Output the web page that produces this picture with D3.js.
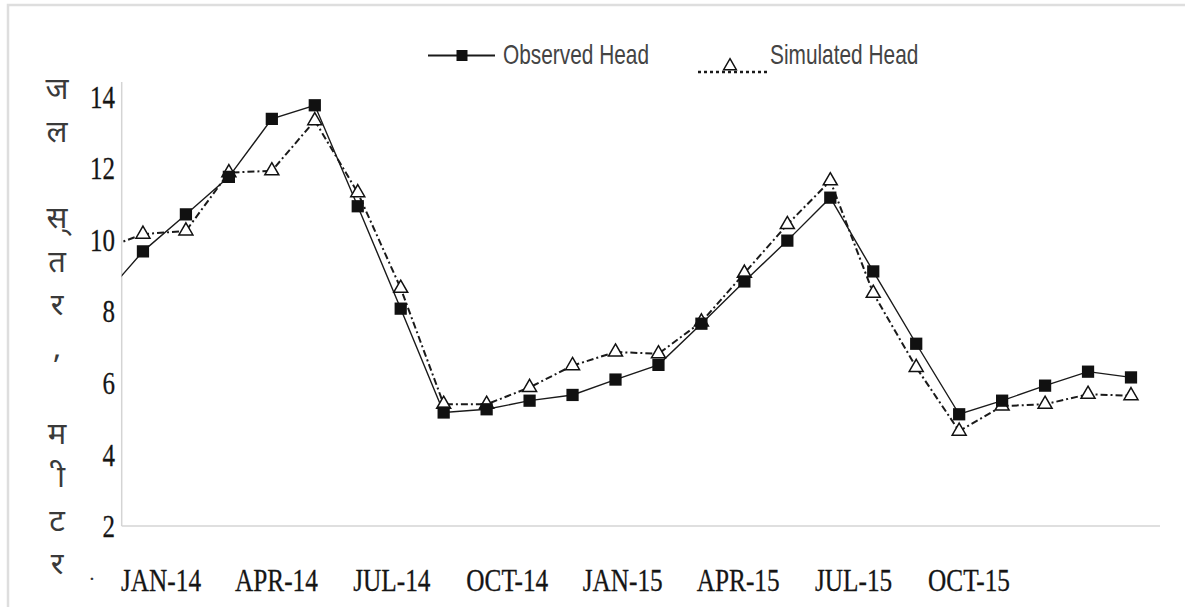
<!DOCTYPE html>
<html>
<head>
<meta charset="utf-8">
<script src="https://cdn.jsdelivr.net/npm/d3@7"></script>
<style>
  body { margin: 0; background: #fff; }
</style>
</head>
<body>
<svg id="chart" width="1185" height="607"></svg>
<script>
// months plotted (DEC-13 sits left of the axis and is clipped)
const months = ["DEC-13", "JAN-14", "FEB-14", "MAR-14", "APR-14", "MAY-14", "JUN-14", "JUL-14", "AUG-14",
  "SEP-14", "OCT-14", "NOV-14", "DEC-14", "JAN-15", "FEB-15", "MAR-15", "APR-15", "MAY-15", "JUN-15",
  "JUL-15", "AUG-15", "SEP-15", "OCT-15", "NOV-15", "DEC-15"];
const observedHead = [8.3, 9.67, 10.7, 11.75, 13.37, 13.75, 10.93, 8.07, 5.17, 5.26, 5.5, 5.66, 6.09,
  6.5, 7.65, 8.83, 9.97, 11.17, 9.11, 7.09, 5.12, 5.5, 5.92, 6.31, 6.15];
const simulatedHead = [9.7, 10.15, 10.24, 11.87, 11.92, 13.32, 11.31, 8.64, 5.4, 5.4, 5.87, 6.48, 6.86,
  6.81, 7.7, 9.06, 10.42, 11.64, 8.5, 6.43, 4.65, 5.35, 5.4, 5.68, 5.64];
const xLabels = ["JAN-14", "APR-14", "JUL-14", "OCT-14", "JAN-15", "APR-15", "JUL-15", "OCT-15"];
const yTicks = [2, 4, 6, 8, 10, 12, 14];
const yTitle = ["ज", "ल", "", "स्", "त", "र", ",", "", "म", "\u00A0ी", "ट", "र"];
const legendNames = ["Observed Head", "Simulated Head"];

function drawChart() {
  const svg = d3.select("#chart");
  const left = 121.7, bottom = 526, top = 82, right = 1160;

  // light frame around the figure
  svg.append("rect")
    .attr("x", 8).attr("y", 5)
    .attr("width", 1300).attr("height", 800)
    .attr("fill", "none")
    .attr("stroke", "#dedede")
    .attr("stroke-width", 2.5);

  const x = d3.scalePoint().domain(months).range([100, 1131]);
  const y = d3.scaleLinear().domain([2, 14.4]).range([bottom, top]);
  const xl = d3.scalePoint().domain(xLabels).range([161, 969]);

  // axes lines
  svg.append("line")
    .attr("x1", left).attr("x2", left).attr("y1", top).attr("y2", bottom)
    .attr("stroke", "#d4d4d4").attr("stroke-width", 1.5);
  svg.append("line")
    .attr("x1", left).attr("x2", right).attr("y1", bottom).attr("y2", bottom)
    .attr("stroke", "#d4d4d4").attr("stroke-width", 1.5);

  // y tick labels
  svg.selectAll(".ytick")
    .data(yTicks)
    .enter().append("text")
    .attr("class", "ytick")
    .attr("transform", d => `translate(115,${y(d)}) scale(0.78,1)`)
    .attr("dy", "0.35em")
    .attr("text-anchor", "end")
    .style("font-family", "'Liberation Serif', 'Times New Roman', serif")
    .style("font-size", "32px")
    .attr("fill", "#151515")
    .attr("stroke", "#151515").attr("stroke-width", 0.3)
    .text(d => d);

  // x labels
  svg.selectAll(".xtick")
    .data(xLabels)
    .enter().append("text")
    .attr("class", "xtick")
    .attr("transform", d => `translate(${xl(d)},591) scale(0.79,1)`)
    .attr("text-anchor", "middle")
    .style("font-family", "'Liberation Serif', 'Times New Roman', serif")
    .style("font-size", "32px")
    .attr("fill", "#151515")
    .attr("stroke", "#151515").attr("stroke-width", 0.3)
    .text(d => d);

  svg.append("text")
    .attr("x", 92).attr("y", 586)
    .attr("text-anchor", "middle")
    .style("font-family", "'Liberation Serif', serif")
    .style("font-size", "22px")
    .attr("fill", "#333")
    .text("·");

  // vertical hindi title, one glyph per slot
  const ty = d3.scalePoint().domain(d3.range(yTitle.length)).range([88, 563]);
  svg.selectAll(".ytitle")
    .data(yTitle)
    .enter().append("text")
    .attr("class", "ytitle")
    .attr("x", 57)
    .attr("y", (d, i) => ty(i))
    .attr("dy", "0.35em")
    .attr("text-anchor", "middle")
    .style("font-family", "'Noto Sans Devanagari', 'Lohit Devanagari', 'FreeSans', sans-serif")
    .style("font-size", "31px")
    .attr("fill", "#3a3a3a")
    .text(d => d);

  // clip so the DEC-13 point stays hidden behind the axis
  svg.append("clipPath").attr("id", "plot-clip")
    .append("rect")
    .attr("x", left).attr("y", 0)
    .attr("width", 1185 - left).attr("height", 607);

  const plot = svg.append("g").attr("clip-path", "url(#plot-clip)");

  const simLine = d3.line()
    .x((d, i) => x(months[i]))
    .y(d => y(d));
  const obsLine = d3.line()
    .x((d, i) => x(months[i]))
    .y(d => y(d));

  plot.append("path")
    .datum(simulatedHead)
    .attr("d", simLine)
    .attr("fill", "none")
    .attr("stroke", "#1a1a1a")
    .attr("stroke-width", 2)
    .attr("stroke-dasharray", "7,3,2,3");

  plot.append("path")
    .datum(observedHead)
    .attr("d", obsLine)
    .attr("fill", "none")
    .attr("stroke", "#1a1a1a")
    .attr("stroke-width", 1.4);

  const tri = d3.symbol().type(d3.symbolTriangle).size(85);
  const sq = d3.symbol().type(d3.symbolSquare).size(150);

  plot.selectAll(".sim")
    .data(simulatedHead)
    .enter().append("path")
    .attr("class", "sim")
    .attr("d", tri)
    .attr("transform", (d, i) => `translate(${x(months[i])},${y(d)})`)
    .attr("fill", "#fff")
    .attr("stroke", "#111")
    .attr("stroke-width", 1.5);

  plot.selectAll(".obs")
    .data(observedHead)
    .enter().append("path")
    .attr("class", "obs")
    .attr("d", sq)
    .attr("transform", (d, i) => `translate(${x(months[i])},${y(d)})`)
    .attr("fill", "#111");

  // legend
  const leg = svg.append("g");
  leg.append("line")
    .attr("x1", 428).attr("x2", 495).attr("y1", 55.5).attr("y2", 55.5)
    .attr("stroke", "#1a1a1a").attr("stroke-width", 2);
  leg.append("path")
    .attr("d", d3.symbol().type(d3.symbolSquare).size(121))
    .attr("transform", "translate(462,55.5)")
    .attr("fill", "#111");
  leg.append("text")
    .attr("transform", "translate(503,64) scale(0.745,1)")
    .style("font-family", "'Liberation Sans', Arial, sans-serif")
    .style("font-size", "28px")
    .attr("fill", "#444")
    .text(legendNames[0]);

  leg.append("line")
    .attr("x1", 698).attr("x2", 768).attr("y1", 72).attr("y2", 72)
    .attr("stroke", "#1a1a1a").attr("stroke-width", 2.5)
    .attr("stroke-dasharray", "3,3");
  leg.append("path")
    .attr("d", d3.symbol().type(d3.symbolTriangle).size(70))
    .attr("transform", "translate(730,66)")
    .attr("fill", "#fff")
    .attr("stroke", "#111")
    .attr("stroke-width", 1.5);
  leg.append("text")
    .attr("transform", "translate(770,64) scale(0.745,1)")
    .style("font-family", "'Liberation Sans', Arial, sans-serif")
    .style("font-size", "28px")
    .attr("fill", "#444")
    .text(legendNames[1]);
}

drawChart();
</script>
</body>
</html>
